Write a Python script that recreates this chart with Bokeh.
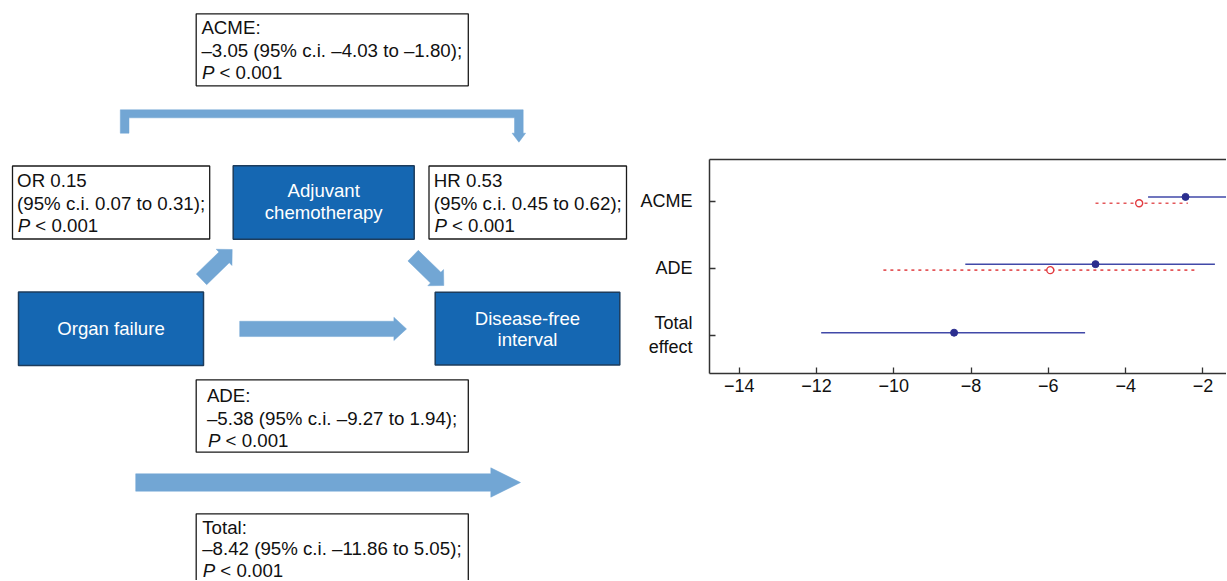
import math
from bokeh.plotting import figure
from bokeh.layouts import row, column
from bokeh.models import Range1d, FixedTicker, LinearAxis
from bokeh.core.properties import value
from bokeh.embed import file_html
from bokeh.resources import INLINE

# ---------------- data ----------------
forest_rows = ["ACME", "ADE", "Total\neffect"]
row_pos = [3, 2, 1]
blue_est = [-2.45, -4.78, -8.44]
blue_lo = [-3.42, -8.15, -11.88]
blue_hi = [-1.05, -1.69, -5.05]
red_est = [-3.65, -5.95]
red_lo = [-4.78, -10.27]
red_hi = [-2.39, -2.17]
x_ticks = [-14, -12, -10, -8, -6, -4, -2]

acme_lines = ["ACME:", "\u20133.05 (95% c.i. \u20134.03 to \u20131.80);"]
or_lines = ["OR 0.15", "(95% c.i. 0.07 to 0.31);"]
hr_lines = ["HR 0.53", "(95% c.i. 0.45 to 0.62);"]
ade_lines = ["ADE:", "\u20135.38 (95% c.i. \u20139.27 to 1.94);"]
total_lines = ["Total:", "\u20138.42 (95% c.i. \u201311.86 to 5.05);"]
p_text = "< 0.001"
node_labels = {
    "organ": ["Organ failure"],
    "chemo": ["Adjuvant", "chemotherapy"],
    "dfi": ["Disease-free", "interval"],
}

FONT = "Liberation Sans"
FS = "18px"
FS_BOX = "18.7px"
FS_NODE = "18.6px"
NODE_FILL = "#1567b2"
NODE_LINE = "#1d3c5c"
ARROW = "#72a6d4"

W_D = 630
W_F = 596
H = 580

# ---------------- diagram (pixel coordinates) ----------------
d = figure(width=W_D, height=H, x_range=Range1d(0, W_D), y_range=Range1d(H, 0),
           output_backend="svg", toolbar_location=None, x_axis_location=None,
           y_axis_location=None, min_border=0, outline_line_color=None, title=None)
d.xgrid.visible = False
d.ygrid.visible = False


def arrow_poly(tail, tip, shaft_w, head_w, head_len):
    dx, dy = tip[0] - tail[0], tip[1] - tail[1]
    L = math.hypot(dx, dy)
    ux, uy = dx / L, dy / L
    nx, ny = -uy, ux
    bx, by = tip[0] - ux * head_len, tip[1] - uy * head_len
    pts = [
        (tail[0] + nx * shaft_w / 2, tail[1] + ny * shaft_w / 2),
        (bx + nx * shaft_w / 2, by + ny * shaft_w / 2),
        (bx + nx * head_w / 2, by + ny * head_w / 2),
        tip,
        (bx - nx * head_w / 2, by - ny * head_w / 2),
        (bx - nx * shaft_w / 2, by - ny * shaft_w / 2),
        (tail[0] - nx * shaft_w / 2, tail[1] - ny * shaft_w / 2),
    ]
    return [p[0] for p in pts], [p[1] for p in pts]


arrows = [
    arrow_poly((239.2, 328.4), (406.0, 328.4), 15.3, 23.3, 12.6),
    arrow_poly((135.2, 482.0), (520.0, 482.0), 17.4, 29.4, 29.7),
    arrow_poly((201.0, 278.8), (231.7, 249.0), 14.9, 22.6, 11.3),
    arrow_poly((412.6, 255.2), (443.3, 285.0), 14.9, 22.6, 11.3),
]
# bracket arrow (ACME path)
bx = [119.8, 119.8, 522.7, 522.7, 525.1, 518.4, 511.6, 514.0, 514.0, 128.5, 128.5]
by = [132.7, 109.3, 109.3, 132.7, 132.7, 141.7, 132.7, 132.7, 117.3, 117.3, 132.7]
arrows.append((bx, by))
d.patches([a[0] for a in arrows], [a[1] for a in arrows], fill_color=ARROW,
          line_color=ARROW, line_width=0.5)

# white text boxes
tb = dict(left=[195.7, 12.0, 428.5, 195.7, 195.7],
          right=[467.8, 209.2, 626.0, 467.8, 467.8],
          top=[13.3, 165.5, 165.5, 379.3, 513.3],
          bottom=[85.3, 238.5, 238.5, 451.7, 600.0])
d.quad(**tb, fill_color="white", line_color="#1a1a1a", line_width=1.3)

# blue node boxes
nb = dict(left=[18.0, 232.7, 434.7], right=[203.0, 413.7, 619.3],
          top=[291.5, 165.3, 291.7], bottom=[365.0, 238.7, 364.5])
d.quad(**nb, fill_color=NODE_FILL, line_color=NODE_LINE, line_width=1.5)


def stat_block(x0, y0, lines, px, step=22.5):
    ys = [y0, y0 + step]
    d.text(x=[x0] * 2, y=ys, text=lines, text_font=value(FONT), text_font_size=FS_BOX,
           text_baseline="middle", text_align="left", text_color="#111111")
    d.text(x=[px], y=[y0 + 2 * step], text=["P"], text_font=value(FONT),
           text_font_size=FS_BOX, text_font_style="italic", text_baseline="middle",
           text_align="left", text_color="#111111")
    d.text(x=[px + 17.5], y=[y0 + 2 * step], text=[p_text], text_font=value(FONT),
           text_font_size=FS_BOX, text_baseline="middle", text_align="left",
           text_color="#111111")


stat_block(200.9, 27.3, acme_lines, 201.5)
stat_block(16.6, 180.0, or_lines, 17.3)
stat_block(433.3, 180.0, hr_lines, 434.0)
stat_block(206.4, 395.0, ade_lines, 207.6)
stat_block(201.7, 526.5, total_lines, 202.3, step=21.8)

node_txt_x = [110.5, 323.2, 323.2, 527.0, 527.0]
node_txt_y = [328.0, 190.0, 212.3, 318.3, 339.3]
node_txt = node_labels["organ"] + node_labels["chemo"] + node_labels["dfi"]
d.text(x=node_txt_x, y=node_txt_y, text=node_txt, text_font=value(FONT),
       text_font_size=FS_NODE, text_baseline="middle", text_align="center",
       text_color="white")

# ---------------- forest plot ----------------
f = figure(width=W_F, height=H, x_range=Range1d(-14.77, -1.39),
           y_range=Range1d(0.425, 3.624), output_backend="svg", toolbar_location=None,
           min_border_left=79, min_border_right=0, min_border_top=159,
           min_border_bottom=H - 373, outline_line_color=None, title=None)
f.xgrid.visible = False
f.ygrid.visible = False

AX = "#333333"
f.xaxis.ticker = FixedTicker(ticks=x_ticks)
f.xaxis.major_label_overrides = {t: "\u2212" + str(abs(t)) for t in x_ticks}
f.yaxis.ticker = FixedTicker(ticks=row_pos)
f.yaxis.major_label_overrides = {p: lab for p, lab in zip(row_pos, forest_rows)}
for ax in (f.xaxis, f.yaxis):
    ax.major_tick_in = 6
    ax.major_tick_out = 0
    ax.minor_tick_line_color = None
    ax.axis_line_color = AX
    ax.axis_line_width = 1.5
    ax.major_tick_line_color = AX
    ax.major_tick_line_width = 1.3
    ax.major_label_text_font = FONT
    ax.major_label_text_font_size = FS
    ax.major_label_text_color = "#111111"
f.xaxis.major_label_standoff = 5
f.yaxis.major_label_standoff = 17

top_ax = LinearAxis(ticker=FixedTicker(ticks=[]), axis_line_color=AX, axis_line_width=1.5,
                    major_tick_line_color=None, minor_tick_line_color=None,
                    major_label_text_font_size="0px")
f.add_layout(top_ax, "above")

blue_off = [0.065, 0.06, 0.035]
red_off = -0.03
by_ = [r + o for r, o in zip(row_pos, blue_off)]
ry_ = [r + red_off for r in row_pos[:2]]

f.segment(x0=red_lo, x1=red_hi, y0=ry_, y1=ry_, line_color="#e4585b",
          line_width=1.6, line_dash="3 4")
f.scatter(x=red_est, y=ry_, size=7, marker="circle", fill_color="white",
          line_color="#e23b40", line_width=1.4)
f.segment(x0=blue_lo, x1=blue_hi, y0=by_, y1=by_, line_color="#4149a8", line_width=1.5)
f.scatter(x=blue_est, y=by_, size=7, marker="circle", fill_color="#2b2e8f",
          line_color="#2b2e8f")

layout = row(column(d), column(f))
open("out.html", "w").write(file_html(layout, INLINE))
